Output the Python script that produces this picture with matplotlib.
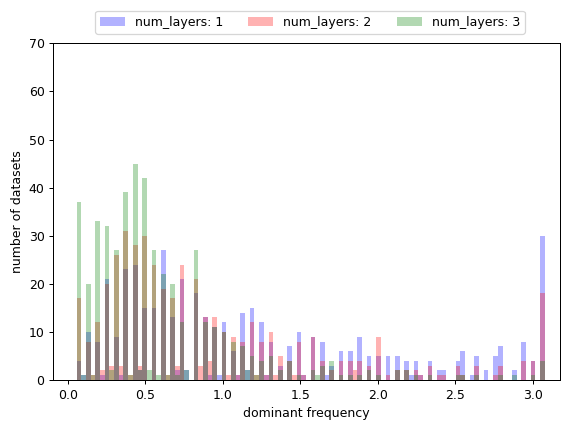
import numpy as np
import matplotlib
matplotlib.use("Agg")
import matplotlib.pyplot as plt

# Histogram bins for the dominant frequency
bin_edges = np.linspace(0.058, 3.078, 101)

# Counts per bin for each model depth
counts_layers_1 = [
    4, 1, 10, 0, 8, 1, 21, 0, 9, 1,
    23, 0, 24, 2, 15, 0, 15, 0, 27, 0,
    13, 2, 21, 2, 0, 18, 0, 13, 1, 11,
    1, 12, 0, 6, 1, 14, 2, 15, 0, 12,
    1, 8, 0, 3, 0, 7, 0, 10, 1, 0,
    9, 0, 8, 1, 3, 0, 6, 0, 6, 0,
    9, 0, 5, 0, 5, 0, 5, 0, 5, 0,
    4, 1, 4, 1, 0, 4, 0, 2, 2, 0,
    0, 4, 6, 0, 1, 5, 0, 2, 0, 5,
    7, 0, 0, 2, 0, 8, 0, 4, 0, 30,
]
counts_layers_2 = [
    17, 0, 8, 1, 12, 2, 20, 3, 26, 3,
    31, 1, 28, 3, 30, 0, 24, 0, 19, 1,
    17, 3, 24, 0, 0, 21, 3, 13, 4, 13,
    0, 10, 1, 9, 1, 8, 0, 12, 1, 8,
    1, 10, 1, 5, 0, 4, 1, 8, 1, 0,
    9, 0, 4, 0, 2, 0, 4, 0, 4, 2,
    4, 0, 3, 0, 9, 0, 1, 0, 2, 0,
    2, 0, 2, 1, 0, 3, 0, 1, 1, 0,
    0, 3, 1, 0, 0, 3, 0, 0, 0, 1,
    3, 0, 0, 0, 0, 4, 0, 4, 0, 18,
]
counts_layers_3 = [
    37, 1, 20, 1, 33, 0, 32, 2, 27, 0,
    39, 1, 45, 2, 42, 2, 27, 1, 22, 1,
    20, 1, 12, 2, 0, 27, 0, 12, 0, 11,
    0, 10, 0, 8, 0, 7, 2, 5, 1, 4,
    0, 5, 0, 2, 0, 4, 0, 1, 0, 0,
    2, 1, 3, 0, 4, 0, 1, 0, 1, 0,
    1, 0, 2, 0, 1, 0, 0, 0, 2, 0,
    2, 0, 1, 0, 0, 1, 0, 0, 0, 0,
    0, 1, 1, 0, 0, 1, 0, 0, 0, 0,
    1, 0, 0, 1, 0, 0, 0, 1, 0, 4,
]

series = [
    ("num_layers: 1", counts_layers_1, "blue"),
    ("num_layers: 2", counts_layers_2, "red"),
    ("num_layers: 3", counts_layers_3, "green"),
]

DPI = 90
fig = plt.figure(figsize=(565 / DPI, 423 / DPI), dpi=DPI)
ax = fig.add_axes([0.0943, 0.1017, 0.8968, 0.7959])

centers = 0.5 * (bin_edges[:-1] + bin_edges[1:])
for label, counts, color in series:
    ax.hist(centers, bins=bin_edges, weights=counts, color=color,
            alpha=0.3, label=label)

ax.set_xlim(-0.093, 3.177)
ax.set_ylim(0, 70)
ax.set_xlabel("dominant frequency")
ax.set_ylabel("number of datasets")
ax.legend(loc="lower center", bbox_to_anchor=(0.5065, 1.01), ncol=3)

fig.savefig("out.png", dpi=DPI)
